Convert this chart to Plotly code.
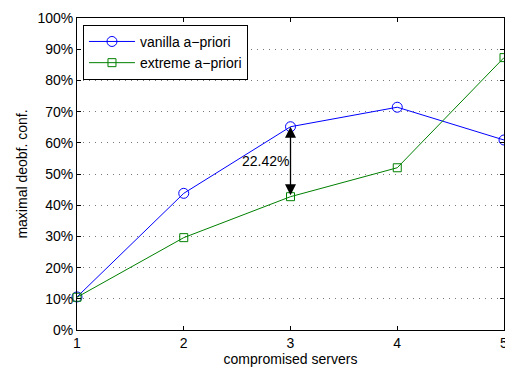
import plotly.graph_objects as go

servers = [1, 2, 3, 4, 5]
vanilla = [0.106, 0.438, 0.6515, 0.714, 0.609]
extreme = [0.105, 0.296, 0.4273, 0.520, 0.873]
diff_label = "22.42%"
x_ticks = [1, 2, 3, 4, 5]
y_ticks = [i / 10 for i in range(11)]

font = "Liberation Sans, Arial, sans-serif"

fig = go.Figure()
fig.add_trace(go.Scatter(
    x=servers, y=vanilla, mode="lines+markers", name="vanilla a\u2212priori",
    line=dict(color="rgb(0,0,255)", width=1),
    marker=dict(symbol="circle-open", size=10, color="rgb(0,0,255)", line=dict(width=1)),
    cliponaxis=False,
))
fig.add_trace(go.Scatter(
    x=servers, y=extreme, mode="lines+markers", name="extreme a\u2212priori",
    line=dict(color="rgb(0,128,0)", width=1),
    marker=dict(symbol="square-open", size=8, color="rgb(0,128,0)", line=dict(width=1)),
    cliponaxis=False,
))

# double-headed arrow between the two series at x=3
fig.add_annotation(
    x=3, y=vanilla[2], ax=3, ay=extreme[2], xref="x", yref="y", axref="x", ayref="y",
    showarrow=True, arrowhead=2, startarrowhead=2, arrowside="end+start",
    arrowwidth=1.3, arrowsize=1.7, startarrowsize=1.7, arrowcolor="black", text="",
)
fig.add_annotation(
    x=3, y=(vanilla[2] + extreme[2]) / 2, xref="x", yref="y", text=diff_label,
    showarrow=False, xanchor="right", xshift=0, yshift=1,
    font=dict(family=font, size=14, color="black"),
)

fig.update_layout(
    width=505, height=368,
    margin=dict(l=77, r=1, t=18, b=38, autoexpand=False),
    paper_bgcolor="white", plot_bgcolor="white",
    font=dict(family=font, size=14, color="black"),
    showlegend=True,
    legend=dict(
        x=0.014, y=0.978, xanchor="left", yanchor="top",
        bgcolor="white", bordercolor="black", borderwidth=1,
        font=dict(family=font, size=14, color="black"),
        tracegroupgap=0, itemwidth=46,
    ),
)
fig.update_xaxes(
    range=[1, 5], tickvals=x_ticks, ticktext=[str(v) for v in x_ticks],
    showgrid=False, zeroline=False, automargin=False,
    showline=True, linecolor="black", linewidth=1, mirror="ticks",
    ticks="inside", ticklen=4, tickcolor="black",
    ticklabeloverflow="allow",
    title=dict(text="compromised servers", font=dict(size=14), standoff=2),
    tickfont=dict(size=14),
)
fig.update_yaxes(
    range=[0, 1], tickvals=y_ticks, tickformat=".0%",
    showgrid=True, gridcolor="rgb(120,120,120)", griddash="1px,5px", gridwidth=1,
    zeroline=False, automargin=False,
    showline=True, linecolor="black", linewidth=1, mirror="ticks",
    ticks="inside", ticklen=4, tickcolor="black",
    title=dict(text="maximal deobf. conf.", font=dict(size=14), standoff=6),
    tickfont=dict(size=14),
)

fig.write_html(
    "out.html",
    config={"displayModeBar": False},
    post_script="document.body.style.margin='0';document.body.style.overflow='hidden';",
)
